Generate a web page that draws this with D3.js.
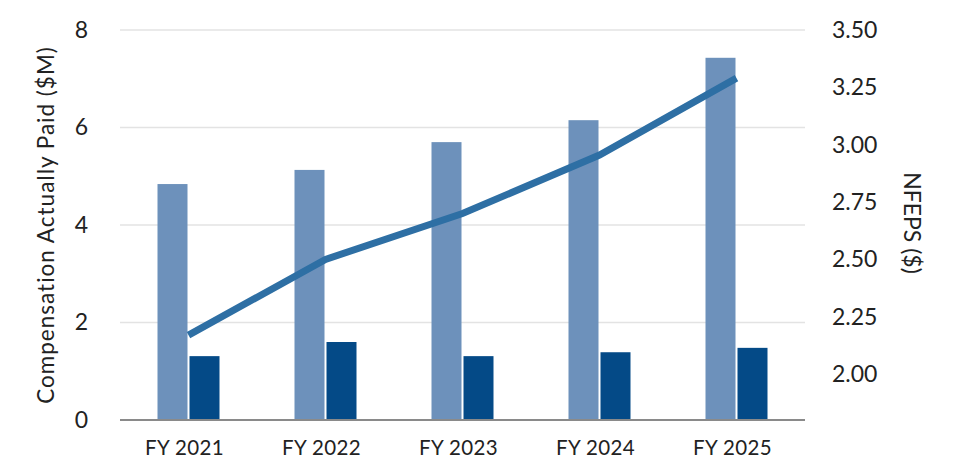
<!DOCTYPE html>
<html><head><meta charset="utf-8">
<script src="https://cdn.jsdelivr.net/npm/d3@7"></script>
<style>body{margin:0;background:#fff}svg{display:block;font-family:Lato,"Open Sans",sans-serif}</style>
</head><body><svg id="c" width="960" height="470"></svg>
<script>
const categories = ["FY 2021","FY 2022","FY 2023","FY 2024","FY 2025"];
const capPEO = [4.84, 5.13, 5.70, 6.15, 7.43];
const capNEO = [1.31, 1.60, 1.31, 1.39, 1.48];
const nfeps = [2.17, 2.50, 2.70, 2.955, 3.29];
const leftTicks = [0, 2, 4, 6, 8];
const rightTicks = [2.00, 2.25, 2.50, 2.75, 3.00, 3.25, 3.50];

const svg = d3.select("#c");
const L = 120, R = 805, T = 30, B = 420;
const x = d3.scaleBand().domain(categories).range([L, R]);
const yL = d3.scaleLinear().domain([0, 8]).range([B, T]);
const yR = d3.scaleLinear().domain([1.8, 3.5]).range([B, T]);

// gridlines
svg.append("g").selectAll("line").data(leftTicks.filter(d => d > 0)).join("line")
  .attr("x1", L).attr("x2", R).attr("y1", d => yL(d)).attr("y2", d => yL(d))
  .attr("stroke", "#e3e3e3").attr("stroke-width", 1.5);

const bw = 30, gap = 2;
svg.append("g").selectAll("rect").data(categories).join("rect")
  .attr("x", d => x(d) + x.bandwidth()/2 - bw - gap/2)
  .attr("width", bw)
  .attr("y", (d,i) => yL(capPEO[i]))
  .attr("height", (d,i) => B - yL(capPEO[i]))
  .attr("fill", "#6d91bb");
svg.append("g").selectAll("rect").data(categories).join("rect")
  .attr("x", d => x(d) + x.bandwidth()/2 + gap/2)
  .attr("width", bw)
  .attr("y", (d,i) => yL(capNEO[i]))
  .attr("height", (d,i) => B - yL(capNEO[i]))
  .attr("fill", "#044a87");

// baseline
svg.append("line").attr("x1", L).attr("x2", R).attr("y1", B).attr("y2", B)
  .attr("stroke", "#8a8a8a").attr("stroke-width", 2);

// line
const line = d3.line().x((d,i) => x(categories[i]) + x.bandwidth()/2).y(d => yR(d));
svg.append("path").datum(nfeps).attr("d", line)
  .attr("fill", "none").attr("stroke", "#2e6fa4").attr("stroke-width", 7);

// left axis
const la = svg.append("g").attr("transform", `translate(${L},0)`)
  .call(d3.axisLeft(yL).tickValues(leftTicks).tickSize(0).tickPadding(32).tickFormat(d3.format("d")));
la.select(".domain").remove();
la.selectAll("text").attr("font-size", 23).attr("fill", "#222").attr("font-family", "Lato,sans-serif");

// right axis
const ra = svg.append("g").attr("transform", `translate(${R},0)`)
  .call(d3.axisRight(yR).tickValues(rightTicks).tickSize(0).tickPadding(27).tickFormat(d3.format(".2f")));
ra.select(".domain").remove();
ra.selectAll("text").attr("font-size", 23).attr("fill", "#222").attr("font-family", "Lato,sans-serif");

// x axis
const xa = svg.append("g").attr("transform", `translate(0,${B})`)
  .call(d3.axisBottom(x).tickSize(0).tickPadding(20));
xa.select(".domain").remove();
xa.selectAll("text").attr("font-size", 20.5).attr("fill", "#222").attr("font-family", "Lato,sans-serif").attr("dx", -4).attr("letter-spacing", 0.4);

// titles
svg.append("text").attr("transform", "translate(54,225) rotate(-90)")
  .attr("text-anchor", "middle").attr("font-size", 22.5).attr("fill", "#222").attr("letter-spacing", 1)
  .text("Compensation Actually Paid ($M)");
svg.append("text").attr("transform", "translate(904,223) rotate(90)")
  .attr("text-anchor", "middle").attr("font-size", 23).attr("fill", "#222")
  .text("NFEPS ($)");
</script></body></html>
